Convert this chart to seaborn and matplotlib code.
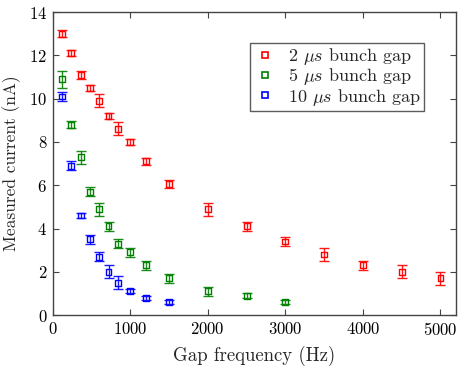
import numpy as np
import pandas as pd
import matplotlib
matplotlib.use("Agg")
import matplotlib.pyplot as plt
import seaborn as sns
from matplotlib.lines import Line2D

freq_2us = [120, 240, 360, 480, 600, 720, 840, 1000, 1200, 1500, 2000, 2500, 3000, 3500, 4000, 4500, 5000]
cur_2us = [13.0, 12.1, 11.1, 10.5, 9.9, 9.2, 8.6, 8.0, 7.1, 6.05, 4.9, 4.1, 3.4, 2.8, 2.3, 2.0, 1.7]
err_2us = [0.15, 0.15, 0.2, 0.15, 0.3, 0.15, 0.3, 0.15, 0.15, 0.2, 0.3, 0.2, 0.2, 0.3, 0.2, 0.3, 0.3]

freq_5us = [120, 240, 360, 480, 600, 720, 840, 1000, 1200, 1500, 2000, 2500, 3000]
cur_5us = [10.9, 8.8, 7.3, 5.7, 4.9, 4.1, 3.3, 2.9, 2.3, 1.7, 1.1, 0.9, 0.6]
err_5us = [0.4, 0.15, 0.3, 0.2, 0.3, 0.2, 0.2, 0.2, 0.2, 0.2, 0.2, 0.1, 0.1]

freq_10us = [120, 240, 360, 480, 600, 720, 840, 1000, 1200, 1500]
cur_10us = [10.1, 6.9, 4.6, 3.5, 2.7, 2.0, 1.5, 1.1, 0.8, 0.6]
err_10us = [0.2, 0.2, 0.1, 0.2, 0.2, 0.3, 0.3, 0.1, 0.1, 0.1]

labels = [r"2 $\mu s$ bunch gap", r"5 $\mu s$ bunch gap", r"10 $\mu s$ bunch gap"]
colors = ["#ff0000", "#008000", "#0000ff"]

sns.set_style("ticks")
plt.rcParams["font.family"] = ["cmr10"]
plt.rcParams["mathtext.fontset"] = "cm"
plt.rcParams["axes.formatter.use_mathtext"] = True

fig = plt.figure(figsize=(4.63, 3.66), dpi=100)
ax = fig.add_axes([0.1138, 0.139, 0.871, 0.828])

series = [(freq_2us, cur_2us, err_2us), (freq_5us, cur_5us, err_5us), (freq_10us, cur_10us, err_10us)]
frames = []
for (f, c, e), lab in zip(series, labels):
    frames.append(pd.DataFrame({"freq": f, "cur": c, "err": e, "series": lab}))
df = pd.concat(frames, ignore_index=True)

for lab, col in zip(labels, colors):
    d = df[df.series == lab]
    ax.errorbar(d.freq, d.cur, yerr=d.err, fmt="none", ecolor=col, elinewidth=1.0,
                capsize=3.5, capthick=1.0, alpha=0.9)
    sns.scatterplot(data=d, x="freq", y="cur", marker="s", s=18, facecolors="none",
                    edgecolors=col, color=col, linewidth=1.0, ax=ax, legend=False)

ax.set_xlim(0, 5200)
ax.set_ylim(0, 14)
ax.set_xticks(range(0, 5001, 1000))
ax.set_yticks(range(0, 15, 2))
ax.tick_params(direction="in", top=True, right=True, labelsize=12, length=4.5, width=0.8,
               colors="#444444", labelcolor="black", pad=4)
for sp in ax.spines.values():
    sp.set_color("#444444")
    sp.set_linewidth(1.0)
ax.set_xlabel("Gap frequency (Hz)", fontsize=13.5, labelpad=6)
ax.set_ylabel("Measured current (nA)", fontsize=12.5, labelpad=6)

handles = [Line2D([], [], linestyle="none", marker="s", markersize=4, markerfacecolor="none",
                  markeredgecolor=c, markeredgewidth=1.2) for c in colors]
leg = ax.legend(handles, labels, loc="upper right", bbox_to_anchor=(424.3 / 463, 1 - 42.7 / 366),
                bbox_transform=fig.transFigure, prop={"family": "cmr10", "size": 13},
                frameon=True, fancybox=False, borderaxespad=0, handletextpad=0.6,
                labelspacing=-0.05, handlelength=1.3, borderpad=0.2)
leg.get_frame().set_edgecolor("#333333")
leg.get_frame().set_linewidth(1.0)

fig.savefig("out.png", dpi=100)
